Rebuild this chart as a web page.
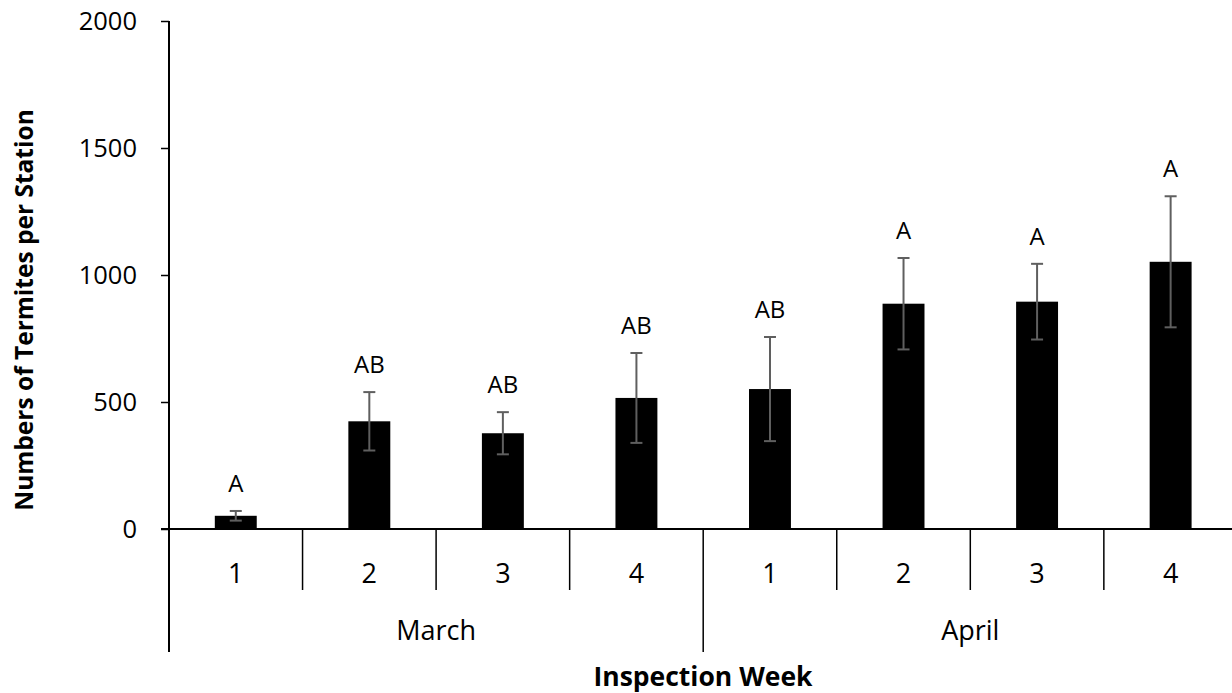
<!DOCTYPE html>
<html>
<head>
<meta charset="utf-8">
<script src="https://cdn.jsdelivr.net/npm/d3@7"></script>
<style>
  html, body { margin: 0; padding: 0; background: #ffffff; }
  svg { display: block; font-family: 'Open Sans', sans-serif; }
</style>
</head>
<body>
<div id="termite-viz"></div>
<script>
// Chart data
const months = ['March', 'April'];
const weeks = ['1', '2', '3', '4', '1', '2', '3', '4'];
const meanCounts = [52, 424, 377, 516, 551, 887, 895, 1052];
const stdErrors = [19, 115, 83, 177, 205, 180, 149, 258];
const letters = ['A', 'AB', 'AB', 'AB', 'AB', 'A', 'A', 'A'];
const yTicks = [0, 500, 1000, 1500, 2000];

const drawTermiteViz = (vizElement) => {
  const totalWidth = 1232;
  const totalHeight = 693;

  // plot area, in page pixels
  const plot = { left: 169, right: 1237.4, top: 21, bottom: 529 };
  const categoryBottom = 652; // bottom of the two-level category axis
  const weekRowBottom = 590;

  const data = meanCounts.map((mean, i) => ({
    id: `c${i}`,
    week: weeks[i],
    month: months[Math.floor(i / 4)],
    mean,
    err: stdErrors[i],
    letter: letters[i],
  }));

  // one slot per inspection week, bars sit centred in their slot
  const slotScale = d3
    .scaleBand()
    .domain(data.map((d) => d.id))
    .range([plot.left, plot.right]);
  const barWidth = slotScale.bandwidth() * 0.314;

  const monthScale = d3
    .scaleBand()
    .domain(months)
    .range([plot.left, plot.right]);

  const yScale = d3
    .scaleLinear()
    .domain([0, 2000])
    .range([plot.bottom, plot.top]);

  const svg = d3
    .select(`#${vizElement}`)
    .append('svg')
    .attr('width', totalWidth)
    .attr('height', totalHeight)
    .attr('viewBox', `0 0 ${totalWidth} ${totalHeight}`);

  // Bars
  svg
    .append('g')
    .selectAll('rect')
    .data(data)
    .join('rect')
    .attr('x', (d) => slotScale(d.id) + (slotScale.bandwidth() - barWidth) / 2)
    .attr('y', (d) => yScale(d.mean))
    .attr('width', barWidth)
    .attr('height', (d) => yScale(0) - yScale(d.mean))
    .attr('fill', '#000000');

  // Error bars
  const errGroup = svg
    .append('g')
    .attr('stroke', '#5f5f5f')
    .attr('stroke-width', 2);
  const cx = (d) => slotScale(d.id) + slotScale.bandwidth() / 2;
  const capHalf = 6;

  errGroup
    .selectAll('line.stem')
    .data(data)
    .join('line')
    .attr('class', 'stem')
    .attr('x1', cx)
    .attr('x2', cx)
    .attr('y1', (d) => yScale(d.mean - d.err))
    .attr('y2', (d) => yScale(d.mean + d.err));

  errGroup
    .selectAll('line.cap-top')
    .data(data)
    .join('line')
    .attr('class', 'cap-top')
    .attr('x1', (d) => cx(d) - capHalf)
    .attr('x2', (d) => cx(d) + capHalf)
    .attr('y1', (d) => yScale(d.mean + d.err))
    .attr('y2', (d) => yScale(d.mean + d.err));

  errGroup
    .selectAll('line.cap-bottom')
    .data(data)
    .join('line')
    .attr('class', 'cap-bottom')
    .attr('x1', (d) => cx(d) - capHalf)
    .attr('x2', (d) => cx(d) + capHalf)
    .attr('y1', (d) => yScale(d.mean - d.err))
    .attr('y2', (d) => yScale(d.mean - d.err));

  // Significance letters above each error bar
  svg
    .append('g')
    .selectAll('text')
    .data(data)
    .join('text')
    .attr('x', cx)
    .attr('y', (d) => yScale(d.mean + d.err) - 19)
    .attr('text-anchor', 'middle')
    .attr('font-size', 24)
    .attr('fill', '#000000')
    .text((d) => d.letter);

  // Y axis
  const yAxis = svg
    .append('g')
    .attr('transform', `translate(${plot.left}, 0)`)
    .call(
      d3
        .axisLeft(yScale)
        .tickValues(yTicks)
        .tickSize(8)
        .tickPadding(24)
        .tickFormat((t) => `${t}`)
    );
  yAxis.select('.domain').remove();
  yAxis.selectAll('.tick line').attr('stroke', '#000000').attr('stroke-width', 1.5);
  yAxis
    .selectAll('.tick text')
    .attr('font-family', "'Open Sans', sans-serif")
    .attr('font-size', 25.5)
    .attr('fill', '#000000');

  // y axis line runs down through the category rows
  svg
    .append('line')
    .attr('x1', plot.left)
    .attr('x2', plot.left)
    .attr('y1', plot.top)
    .attr('y2', categoryBottom)
    .attr('stroke', '#000000')
    .attr('stroke-width', 2);

  // X axis baseline
  svg
    .append('line')
    .attr('x1', plot.left - 8)
    .attr('x2', plot.right)
    .attr('y1', yScale(0))
    .attr('y2', yScale(0))
    .attr('stroke', '#000000')
    .attr('stroke-width', 2);

  // Week separators (short) and month separators (long)
  svg
    .append('g')
    .selectAll('line')
    .data(data.slice(1))
    .join('line')
    .attr('x1', (d) => slotScale(d.id))
    .attr('x2', (d) => slotScale(d.id))
    .attr('y1', yScale(0))
    .attr('y2', (d) => (d.week === '1' ? categoryBottom : weekRowBottom))
    .attr('stroke', '#000000')
    .attr('stroke-width', 1.5);

  // Week labels
  svg
    .append('g')
    .selectAll('text')
    .data(data)
    .join('text')
    .attr('x', cx)
    .attr('y', 583)
    .attr('text-anchor', 'middle')
    .attr('font-size', 27)
    .attr('fill', '#000000')
    .text((d) => d.week);

  // Month labels
  svg
    .append('g')
    .selectAll('text')
    .data(months)
    .join('text')
    .attr('x', (m) => monthScale(m) + monthScale.bandwidth() / 2)
    .attr('y', 640)
    .attr('text-anchor', 'middle')
    .attr('font-size', 27)
    .attr('fill', '#000000')
    .text((m) => m);

  // X axis title
  svg
    .append('text')
    .attr('x', 703)
    .attr('y', 686)
    .attr('text-anchor', 'middle')
    .attr('font-size', 26.5)
    .attr('font-weight', 'bold')
    .attr('fill', '#000000')
    .text('Inspection Week');

  // Y axis title
  svg
    .append('text')
    .attr('transform', 'translate(33, 310) rotate(-90)')
    .attr('text-anchor', 'middle')
    .attr('font-size', 24.5)
    .attr('font-weight', 'bold')
    .attr('fill', '#000000')
    .text('Numbers of Termites per Station');
};

drawTermiteViz('termite-viz');
</script>
</body>
</html>
